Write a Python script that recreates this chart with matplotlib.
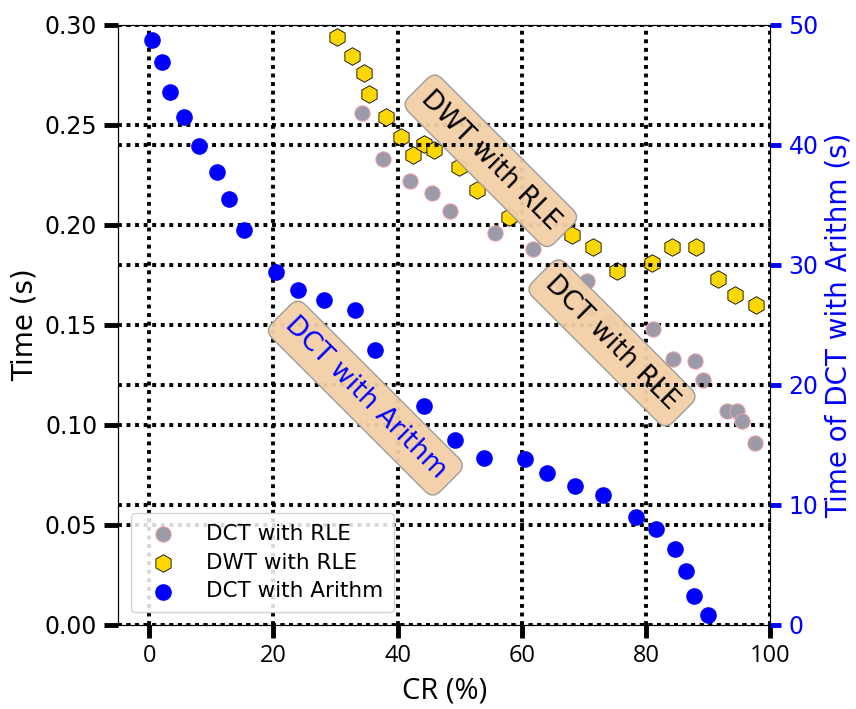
import numpy as np
import matplotlib
matplotlib.use("Agg")
from matplotlib import pyplot as plt

# DCT with RLE (left axis)
cr_dct_rle = [34.2, 37.6, 42.0, 45.5, 48.5, 55.7, 61.8, 66.7, 70.4, 70.7, 74.0,
              81.1, 84.4, 87.9, 89.2, 93.0, 94.6, 95.4, 97.5]
t_dct_rle = [0.256, 0.233, 0.222, 0.216, 0.207, 0.196, 0.188, 0.169, 0.172, 0.158, 0.151,
             0.148, 0.133, 0.132, 0.1225, 0.107, 0.107, 0.102, 0.091]

# DWT with RLE (left axis)
cr_dwt_rle = [30.2, 32.7, 34.6, 35.4, 38.2, 40.5, 42.5, 44.2, 45.8, 49.9, 52.8,
              57.9, 68.1, 71.4, 75.3, 80.9, 84.1, 88.1, 91.5, 94.3, 97.7]
t_dwt_rle = [0.294, 0.2845, 0.276, 0.2655, 0.254, 0.244, 0.235, 0.2405, 0.2375, 0.229, 0.2175,
             0.204, 0.195, 0.189, 0.177, 0.181, 0.189, 0.189, 0.173, 0.165, 0.160]

# DCT with Arithm (right axis)
cr_dct_ar = [0.4, 2.1, 3.3, 5.6, 8.0, 10.9, 12.9, 15.3, 20.4, 24.0, 28.1, 33.1, 36.3,
             44.2, 49.3, 53.9, 60.5, 64.1, 68.5, 73.1, 78.4, 81.6, 84.6, 86.4, 87.7, 89.9]
t_dct_ar = [48.7, 46.9, 44.4, 42.3, 39.9, 37.7, 35.5, 32.9, 29.4, 27.9, 27.1, 26.2, 22.9,
            18.25, 15.4, 13.95, 13.8, 12.7, 11.6, 10.8, 8.97, 8.0, 6.3, 4.5, 2.4, 0.8]

left_ticks = [0.00, 0.05, 0.10, 0.15, 0.20, 0.25, 0.30]
right_ticks = [0, 10, 20, 30, 40, 50]
x_ticks = [0, 20, 40, 60, 80, 100]

grid_style = dict(color="black", linestyle=(0, (1, 1.2)), linewidth=2.8)
box = dict(boxstyle="round,pad=0.4", facecolor="#f3cfa6", edgecolor="#999999", alpha=0.95)

fig = plt.figure(figsize=(8.56, 7.09), dpi=100)
ax = fig.add_axes([0.138, 0.1185, 0.762, 0.8465])
ax2 = ax.twinx()

h1 = ax.scatter(cr_dct_rle, t_dct_rle, s=120, c="#9a9aa8", edgecolors="#e8a0a8",
                linewidths=0.8, label="DCT with RLE", zorder=3)
h2 = ax.scatter(cr_dwt_rle, t_dwt_rle, s=160, marker="h", c="gold", edgecolors="black",
                linewidths=0.6, label="DWT with RLE", zorder=3)
h3 = ax2.scatter(cr_dct_ar, t_dct_ar, s=120, c="blue", label="DCT with Arithm", zorder=3)

ax.set_xlim(-5, 100)
ax.set_ylim(0, 0.30)
ax2.set_ylim(0, 50)
ax.set_xticks(x_ticks)
ax.set_yticks(left_ticks)
ax.set_yticklabels(["%.2f" % v for v in left_ticks])
ax2.set_yticks(right_ticks)

ax.grid(True, **grid_style)
ax2.grid(True, axis="y", **grid_style)
ax.set_axisbelow(True)

ax.tick_params(axis="y", length=10, width=3.5, labelsize=17, pad=5)
ax.tick_params(axis="x", length=9, width=3.5, labelsize=17, pad=5)
ax2.tick_params(axis="y", length=8, width=3.5, color="blue", labelcolor="blue",
                labelsize=17, pad=5)
for lbl in ax.get_xticklabels():
    lbl.set_family(["Open Sans", "DejaVu Sans"])

ax.set_xlabel("CR (%)", fontsize=21, family=["Open Sans", "DejaVu Sans"], labelpad=6)
ax.set_ylabel("Time (s)", fontsize=20)
ax2.set_ylabel("Time of DCT with Arithm (s)", fontsize=20, color="blue")

ax.text(55, 0.232, "DWT with RLE", rotation=-45, fontsize=19, ha="center", va="center",
        bbox=box, zorder=5)
ax.text(74.5, 0.141, "DCT with RLE", rotation=-45, fontsize=19, ha="center", va="center",
        bbox=box, zorder=5)
ax2.text(34.8, 18.9, "DCT with Arithm", rotation=-45, fontsize=19, ha="center", va="center",
         color="blue", bbox=box, zorder=5)

ax2.legend([h1, h2, h3], ["DCT with RLE", "DWT with RLE", "DCT with Arithm"],
           loc="lower left", fontsize=15.5, handletextpad=1.0, borderpad=0.5,
           labelspacing=0.4, framealpha=0.85, borderaxespad=0.6)

fig.savefig("out.png", dpi=100)
